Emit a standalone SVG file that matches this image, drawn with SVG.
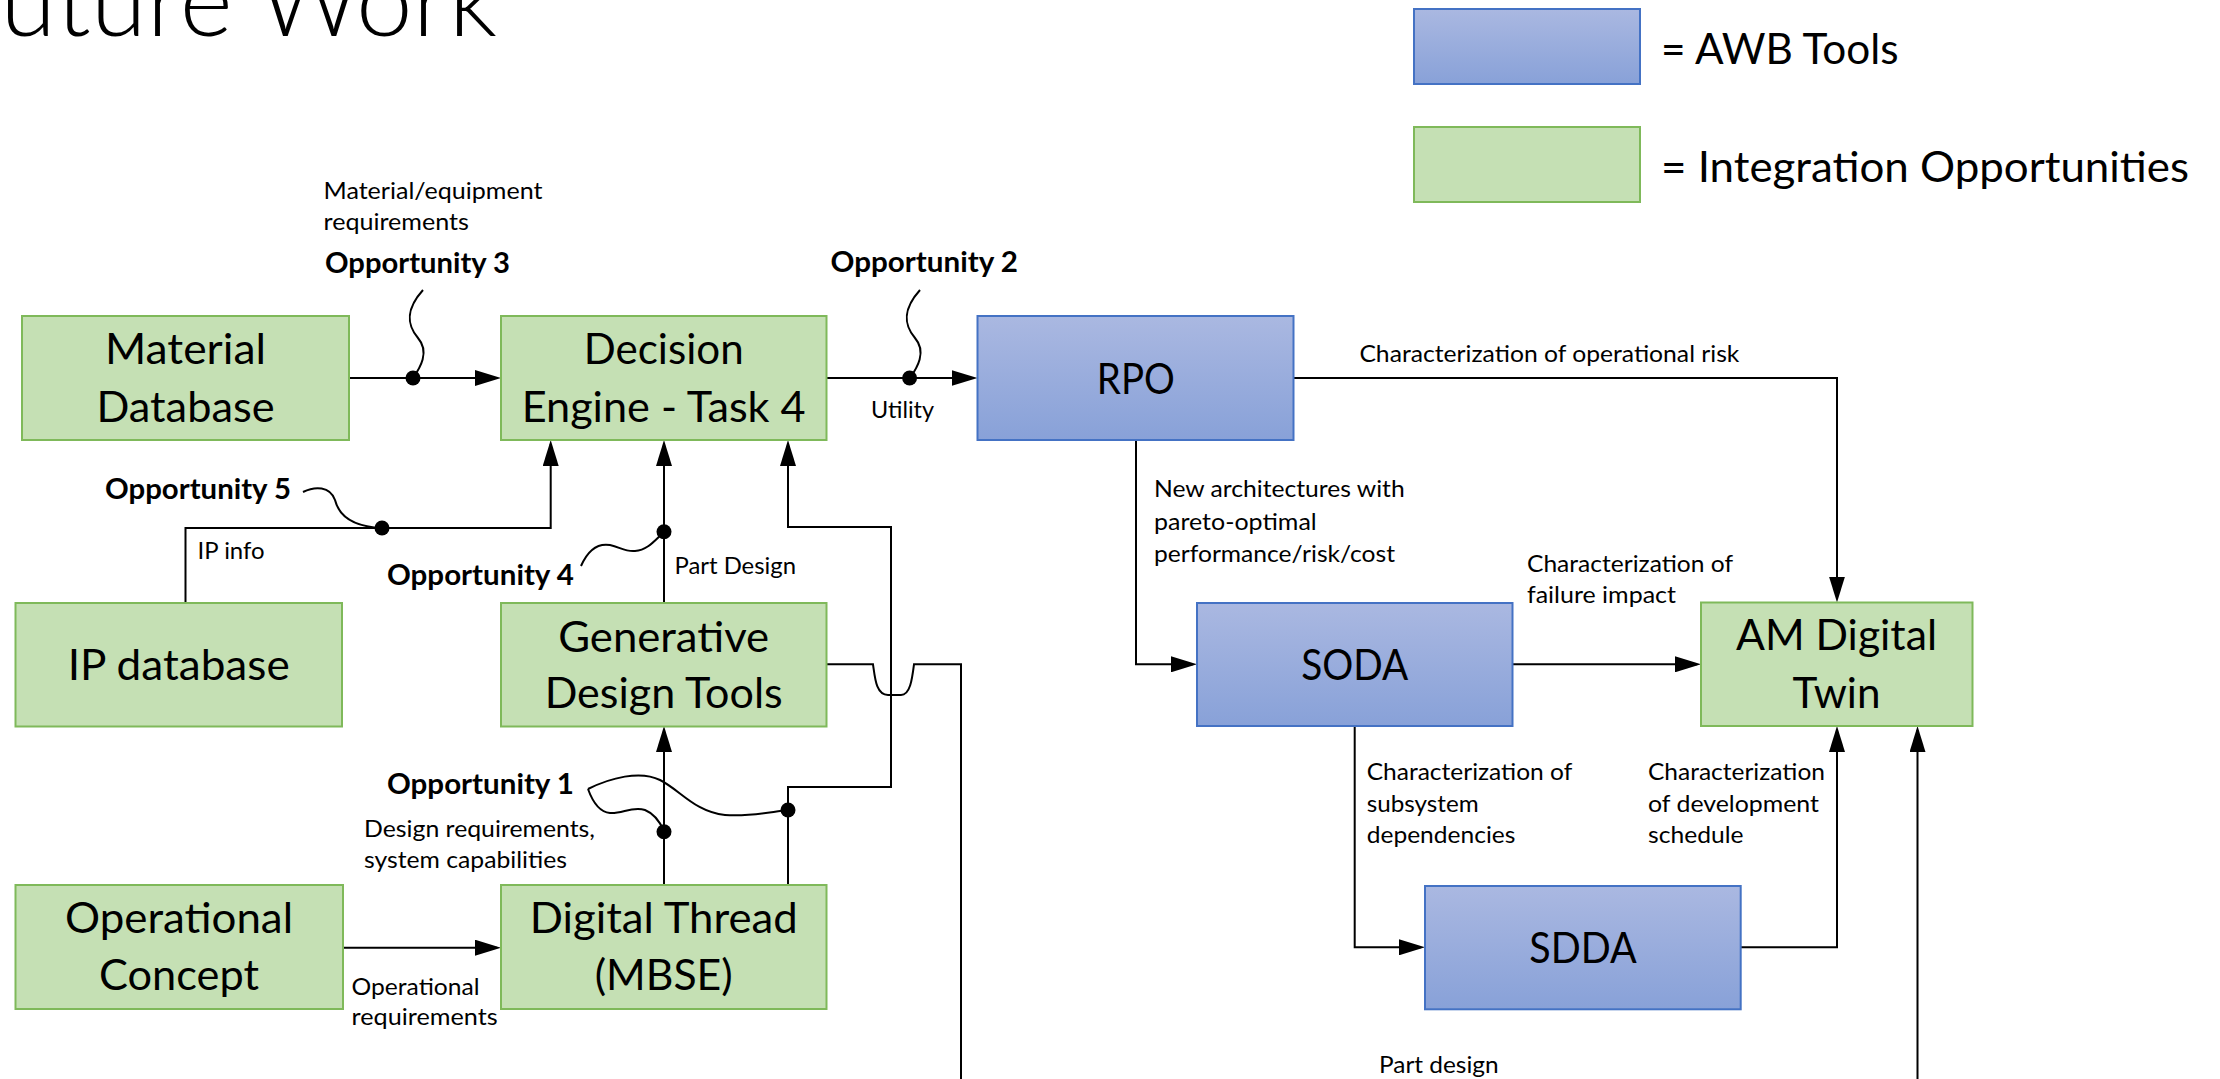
<svg xmlns="http://www.w3.org/2000/svg" width="2220" height="1079" viewBox="0 0 2220 1079">
<style>
.g{fill:#c5e0b4;stroke:#7fb95a;stroke-width:2}
.b{fill:url(#bg);stroke:#4472c4;stroke-width:2}
text{font-family:Lato,'Liberation Sans',sans-serif;fill:#000}
.t{font-size:42px;text-anchor:middle}
.l{font-size:23.5px}
.o{font-size:28px;font-weight:bold}
.lg{font-size:42.5px}
.ttl{font-size:100px;font-weight:300}
.c{fill:none;stroke:#000;stroke-width:2}
.a{marker-end:url(#ah)}
.d{fill:#000}
</style>
<defs>
<linearGradient id="bg" x1="0" y1="0" x2="0" y2="1">
<stop offset="0" stop-color="#aab8e1"/>
<stop offset="1" stop-color="#88a1d8"/>
</linearGradient>
<marker id="ah" viewBox="0 0 26 16" refX="22" refY="8" markerWidth="26" markerHeight="16" markerUnits="userSpaceOnUse" orient="auto">
<path d="M0,0 L26,8 L0,16 z" fill="#000"/>
</marker>
</defs>
<rect width="2220" height="1079" fill="#fff"/>
<text class="ttl" x="-53" y="36" textLength="550" lengthAdjust="spacingAndGlyphs">Future Work</text>

<g id="legend">
<rect class="b" x="1414" y="9" width="226" height="75"/>
<rect class="g" x="1414" y="127" width="226" height="75"/>
<text class="lg" x="1661" y="64" textLength="237.5" lengthAdjust="spacingAndGlyphs">= AWB Tools</text>
<text class="lg" x="1661" y="182" textLength="528" lengthAdjust="spacingAndGlyphs">= Integration Opportunities</text>
</g>

<g id="connectors">
<path class="c a" d="M349,378 H497"/>
<path class="c a" d="M826.5,378 H973.5"/>
<path class="c a" d="M1293.7,378 H1837 V598.5"/>
<path class="c a" d="M1136,440 V664.3 H1193"/>
<path class="c a" d="M1512.5,664.3 H1697"/>
<path class="c a" d="M1354.7,726 V947.3 H1421"/>
<path class="c a" d="M1740.7,947.3 H1837 V730"/>
<path class="c a" d="M1917.5,1079 V730"/>
<path class="c a" d="M185.5,603 V528 H550.7 V444"/>
<path class="c a" d="M664,603 V444"/>
<path class="c a" d="M788,885 V787 H891 V527 H788 V444"/>
<path class="c a" d="M664,885 V730"/>
<path class="c" d="M826.5,664.3 H873 C875,678 876,695 888,695 H901 C910,695 912,680 914,664.3 H961 V1079"/>
<path class="c a" d="M343,947.7 H497"/>
<path class="c" d="M423,290 C405,310 407,325 418,338 C430,352 420,368 413,378"/>
<path class="c" d="M920,290 C902,310 904,325 915,338 C927,352 917,368 910,378"/>
<path class="c" d="M303,492 C315,486 330,486 335,500 C340,520 360,527 382,528"/>
<path class="c" d="M581,566 C588,550 598,543 610,545 C620,547 625,552 635,551 C648,550 655,540 664,532"/>
<path class="c" d="M588,789 C610,778 640,770 660,780 C680,790 695,812 725,815 C750,817 770,812 788,810"/>
<path class="c" d="M588,789 C592,800 598,812 610,813 C622,814 632,806 645,810 C655,814 660,822 664,831"/>
<circle class="d" cx="413" cy="378" r="7.5"/>
<circle class="d" cx="909.6" cy="378" r="7.5"/>
<circle class="d" cx="382" cy="528" r="7.5"/>
<circle class="d" cx="664" cy="531.7" r="7.5"/>
<circle class="d" cx="788" cy="810" r="7.5"/>
<circle class="d" cx="664" cy="831.7" r="7.5"/>
</g>

<g id="labels">
<text class="l" x="323.5" y="199" textLength="219" lengthAdjust="spacingAndGlyphs">Material/equipment</text>
<text class="l" x="323.5" y="230" textLength="145.5" lengthAdjust="spacingAndGlyphs">requirements</text>
<text class="o" x="325" y="273" textLength="185" lengthAdjust="spacingAndGlyphs">Opportunity 3</text>
<text class="o" x="830.5" y="272" textLength="187.5" lengthAdjust="spacingAndGlyphs">Opportunity 2</text>
<text class="l" x="871" y="418" textLength="63" lengthAdjust="spacingAndGlyphs">Utility</text>
<text class="o" x="105" y="499" textLength="186" lengthAdjust="spacingAndGlyphs">Opportunity 5</text>
<text class="l" x="197.6" y="559" textLength="67" lengthAdjust="spacingAndGlyphs">IP info</text>
<text class="o" x="387" y="585" textLength="187" lengthAdjust="spacingAndGlyphs">Opportunity 4</text>
<text class="l" x="674.5" y="573.5" textLength="121.5" lengthAdjust="spacingAndGlyphs">Part Design</text>
<text class="o" x="387" y="793.5" textLength="187" lengthAdjust="spacingAndGlyphs">Opportunity 1</text>
<text class="l" x="364" y="837" textLength="231" lengthAdjust="spacingAndGlyphs">Design requirements,</text>
<text class="l" x="364" y="868" textLength="203" lengthAdjust="spacingAndGlyphs">system capabilities</text>
<text class="l" x="351.6" y="995" textLength="128" lengthAdjust="spacingAndGlyphs">Operational</text>
<text class="l" x="351.6" y="1025" textLength="146" lengthAdjust="spacingAndGlyphs">requirements</text>
<text class="l" x="1359.4" y="361.7" textLength="380" lengthAdjust="spacingAndGlyphs">Characterization of operational risk</text>
<text class="l" x="1154" y="497.3" textLength="250.7" lengthAdjust="spacingAndGlyphs">New architectures with</text>
<text class="l" x="1154" y="530" textLength="162.7" lengthAdjust="spacingAndGlyphs">pareto-optimal</text>
<text class="l" x="1154" y="561.7" textLength="241" lengthAdjust="spacingAndGlyphs">performance/risk/cost</text>
<text class="l" x="1527" y="571.7" textLength="206" lengthAdjust="spacingAndGlyphs">Characterization of</text>
<text class="l" x="1527" y="603.3" textLength="149" lengthAdjust="spacingAndGlyphs">failure impact</text>
<text class="l" x="1366.7" y="780" textLength="205.6" lengthAdjust="spacingAndGlyphs">Characterization of</text>
<text class="l" x="1366.7" y="812.3" textLength="112" lengthAdjust="spacingAndGlyphs">subsystem</text>
<text class="l" x="1366.7" y="843.3" textLength="148.7" lengthAdjust="spacingAndGlyphs">dependencies</text>
<text class="l" x="1648" y="780" textLength="177" lengthAdjust="spacingAndGlyphs">Characterization</text>
<text class="l" x="1648" y="812" textLength="171" lengthAdjust="spacingAndGlyphs">of development</text>
<text class="l" x="1648" y="843" textLength="95.5" lengthAdjust="spacingAndGlyphs">schedule</text>
<text class="l" x="1379" y="1073" textLength="119.6" lengthAdjust="spacingAndGlyphs">Part design</text>
</g>

<g id="material-database">
<rect class="g" x="22" y="316" width="327" height="124"/>
<text class="t" x="185.5" y="364" textLength="161" lengthAdjust="spacingAndGlyphs">Material</text>
<text class="t" x="185.5" y="422" textLength="178" lengthAdjust="spacingAndGlyphs">Database</text>
</g>
<g id="decision-engine">
<rect class="g" x="501" y="316" width="325.5" height="124"/>
<text class="t" x="663.7" y="364" textLength="160" lengthAdjust="spacingAndGlyphs">Decision</text>
<text class="t" x="663.7" y="422" textLength="284" lengthAdjust="spacingAndGlyphs">Engine - Task 4</text>
</g>
<g id="rpo">
<rect class="b" x="977.5" y="316" width="316" height="124"/>
<text class="t" x="1135.8" y="393.5" textLength="78" lengthAdjust="spacingAndGlyphs">RPO</text>
</g>
<g id="ip-database">
<rect class="g" x="15.5" y="603" width="326.5" height="123.5"/>
<text class="t" x="178.7" y="680" textLength="222" lengthAdjust="spacingAndGlyphs">IP database</text>
</g>
<g id="generative-design-tools">
<rect class="g" x="501" y="603" width="325.5" height="123.5"/>
<text class="t" x="663.7" y="651.5" textLength="211" lengthAdjust="spacingAndGlyphs">Generative</text>
<text class="t" x="663.7" y="708" textLength="238" lengthAdjust="spacingAndGlyphs">Design Tools</text>
</g>
<g id="soda">
<rect class="b" x="1197" y="603" width="315.5" height="123"/>
<text class="t" x="1354.7" y="680" textLength="107" lengthAdjust="spacingAndGlyphs">SODA</text>
</g>
<g id="am-digital-twin">
<rect class="g" x="1701" y="602.5" width="271.5" height="123.5"/>
<text class="t" x="1836.5" y="650" textLength="201" lengthAdjust="spacingAndGlyphs">AM Digital</text>
<text class="t" x="1836.5" y="708" textLength="88" lengthAdjust="spacingAndGlyphs">Twin</text>
</g>
<g id="operational-concept">
<rect class="g" x="15.5" y="885" width="327.5" height="124"/>
<text class="t" x="179" y="933" textLength="228" lengthAdjust="spacingAndGlyphs">Operational</text>
<text class="t" x="179" y="990" textLength="160" lengthAdjust="spacingAndGlyphs">Concept</text>
</g>
<g id="digital-thread">
<rect class="g" x="501" y="885" width="325.5" height="124"/>
<text class="t" x="663.7" y="933" textLength="268" lengthAdjust="spacingAndGlyphs">Digital Thread</text>
<text class="t" x="663.7" y="990" textLength="138" lengthAdjust="spacingAndGlyphs">(MBSE)</text>
</g>
<g id="sdda">
<rect class="b" x="1425" y="886" width="315.7" height="123.3"/>
<text class="t" x="1583" y="963" textLength="107.5" lengthAdjust="spacingAndGlyphs">SDDA</text>
</g>
</svg>
